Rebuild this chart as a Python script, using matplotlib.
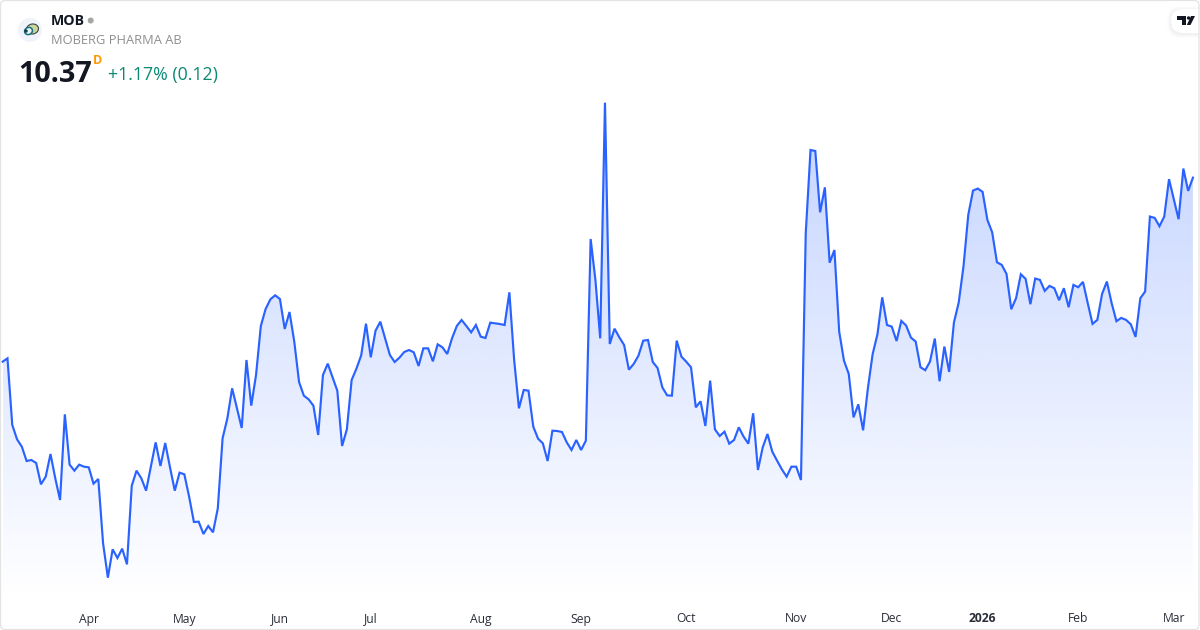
import numpy as np
import matplotlib
matplotlib.use("Agg")
import matplotlib.pyplot as plt
from matplotlib.patches import Circle, Ellipse, FancyBboxPatch, Polygon

# Closing prices
precios = [
    8.714, 8.744, 8.144, 8.015, 7.949, 7.820, 7.829, 7.802, 7.610, 7.679,
    7.883, 7.664, 7.469, 8.240, 7.787, 7.733, 7.787, 7.769, 7.763, 7.616,
    7.658, 7.079, 6.770, 7.025, 6.947, 7.031, 6.890, 7.598, 7.733, 7.664,
    7.553, 7.769, 7.988, 7.775, 7.982, 7.763, 7.553, 7.715, 7.700, 7.499,
    7.271, 7.274, 7.163, 7.235, 7.178, 7.394, 8.024, 8.204, 8.474, 8.294,
    8.117, 8.729, 8.318, 8.594, 9.035, 9.188, 9.275, 9.311, 9.278, 9.008,
    9.161, 8.894, 8.531, 8.408, 8.375, 8.318, 8.054, 8.594, 8.696, 8.573,
    8.453, 7.955, 8.105, 8.549, 8.651, 8.771, 9.056, 8.753, 8.993, 9.074,
    8.924, 8.774, 8.711, 8.750, 8.801, 8.819, 8.798, 8.675, 8.834, 8.834,
    8.717, 8.870, 8.843, 8.783, 8.924, 9.035, 9.089, 9.035, 8.978, 9.044,
    8.939, 8.927, 9.065, 9.059, 9.053, 9.044, 9.338, 8.729, 8.294, 8.459,
    8.453, 8.129, 8.021, 7.979, 7.820, 8.093, 8.090, 8.081, 7.988, 7.919,
    8.009, 7.919, 8.003, 9.818, 9.449, 8.924, 11.045, 8.873, 9.011, 8.933,
    8.864, 8.642, 8.693, 8.768, 8.903, 8.909, 8.711, 8.657, 8.483, 8.411,
    8.408, 8.903, 8.759, 8.714, 8.663, 8.303, 8.357, 8.135, 8.543, 8.105,
    8.045, 8.084, 7.976, 8.009, 8.123, 8.039, 7.976, 8.249, 7.739, 7.943,
    8.063, 7.904, 7.823, 7.745, 7.679, 7.769, 7.769, 7.649, 9.869, 10.619,
    10.610, 10.058, 10.283, 9.605, 9.719, 8.984, 8.723, 8.603, 8.213, 8.330,
    8.096, 8.474, 8.783, 8.960, 9.293, 9.044, 9.029, 8.900, 9.081, 9.039,
    8.931, 8.895, 8.664, 8.637, 8.715, 8.922, 8.538, 8.850, 8.622, 9.066,
    9.246, 9.570, 10.035, 10.254, 10.272, 10.242, 9.990, 9.879, 9.609, 9.585,
    9.504, 9.186, 9.285, 9.501, 9.459, 9.231, 9.462, 9.450, 9.351, 9.396,
    9.375, 9.267, 9.375, 9.204, 9.405, 9.384, 9.432, 9.240, 9.054, 9.090,
    9.324, 9.435, 9.240, 9.078, 9.108, 9.090, 9.051, 8.937, 9.285, 9.345,
    10.020, 10.008, 9.933, 10.020, 10.356, 10.176, 9.996, 10.452, 10.251, 10.37,
]
# First trading day of each month, as index into precios
meses_idx = [18, 38, 58, 77, 100, 121, 143, 166, 186, 205, 225, 245]
meses = ["Apr", "May", "Jun", "Jul", "Aug", "Sep", "Oct", "Nov", "Dec", "2026", "Feb", "Mar"]

simbolo = "MOB"
nombre = "MOBERG PHARMA AB"
ultimo = "10.37"
cambio = "+1.17% (0.12)"

AZUL = "#2962ff"
NEGRO = "#131722"
plt.rcParams["font.family"] = ["Open Sans", "DejaVu Sans"]

fig = plt.figure(figsize=(12, 6.3), dpi=100, facecolor="white")

# Price axes: they end at y=600 so the month labels sit below them
ax = fig.add_axes([0, 30 / 630, 1, 600 / 630])
x = np.arange(len(precios))
base = 6.569
techo = 11.969
limites_x = (-2.7 / 4.78, (1200 - 2.7) / 4.78)

# Area under the line, gradient clipped to the polygon
area = ax.fill_between(x, precios, base, facecolor="none", edgecolor="none")
grad = np.zeros((256, 1, 4))
grad[..., :3] = matplotlib.colors.to_rgb(AZUL)
grad[:, 0, 3] = np.linspace(0.28, 0.0, 256)
im = ax.imshow(grad, extent=(x[0], x[-1], base, max(precios)), aspect="auto", zorder=1,
               interpolation="bilinear")
im.set_clip_path(area.get_paths()[0], transform=ax.transData)
ax.set_xlim(*limites_x)
ax.set_ylim(base, techo)

ax.plot(x, precios, color=AZUL, lw=1.55, zorder=2, solid_joinstyle="miter")

ax.set_yticks([])
ax.set_xticks(meses_idx)
ax.set_xticklabels(meses, fontsize=8.7, color="#2a2e39")
ax.get_xticklabels()[meses.index("2026")].set_fontweight("bold")
ax.tick_params(axis="x", length=0, pad=9)
for s in ax.spines.values():
    s.set_visible(False)
ax.patch.set_alpha(0)

# Overlay in pixel coordinates for header, logos and frame
capa = fig.add_axes([0, 0, 1, 1])
capa.set_xlim(0, 1200)
capa.set_ylim(630, 0)
capa.axis("off")
capa.patch.set_alpha(0)

# Company logo
capa.add_patch(Circle((30, 30), 12, fc="#f0f3fa", ec="none"))
capa.add_patch(Ellipse((32.5, 29), 12, 10, angle=-10, fc="#c9d69c", ec="#3a4545", lw=0.8))
capa.add_patch(Ellipse((28.5, 31), 8, 7, angle=-25, fc="#e8f3f4", ec="#1b6f80", lw=1.1))
capa.add_patch(Circle((26, 31), 1.7, fc="#173c44", ec="none"))

capa.text(51, 21, simbolo, fontsize=10.2, fontweight="bold", color=NEGRO, va="center")
capa.add_patch(Circle((90.7, 20.5), 3, fc="#a6a6a6", ec="none"))
capa.text(51, 40.5, nombre, fontsize=9.25, color="#8f8f8f", va="center")
capa.text(18, 74, ultimo, fontsize=20.8, fontweight="bold", color=NEGRO, va="center")
capa.text(93, 61, "D", fontsize=9, fontweight="bold", color="#ff9800", va="center")
capa.text(108, 75, cambio, fontsize=12.8, color="#0b8a72", va="center")

# TradingView badge: soft shadow, white pill, glyphs
for g, a in [(4, 0.008), (3, 0.012), (2, 0.016), (1, 0.02)]:
    capa.add_patch(FancyBboxPatch((1171 - g, 9 - g + 1), 60 + g, 24 + 2 * g,
                                  boxstyle="round,pad=0,rounding_size=12", fc="black", ec="none", alpha=a))
capa.add_patch(FancyBboxPatch((1171, 9), 60, 24, boxstyle="round,pad=0,rounding_size=12",
                              fc="white", ec="none"))
capa.add_patch(Polygon([(1177, 16), (1186, 16), (1186, 25), (1181.5, 25), (1181.5, 20), (1177, 20)],
                       fc=NEGRO, ec="none"))
capa.add_patch(Circle((1188.6, 18), 1.7, fc=NEGRO, ec="none"))
capa.add_patch(Polygon([(1191, 16), (1195, 16), (1190.5, 25), (1186.8, 25)], fc=NEGRO, ec="none"))

# Frame drawn last, white outside it so the pill stops at the edge
capa.add_patch(Polygon([(1199, 0), (1200, 0), (1200, 630), (1199, 630)], fc="white", ec="none"))
capa.add_patch(FancyBboxPatch((0.5, 0.5), 1198.5, 629, boxstyle="round,pad=0,rounding_size=5",
                              fc="none", ec="#e3e3e3", lw=0.9))

fig.savefig("out.png", dpi=100, facecolor="white")
